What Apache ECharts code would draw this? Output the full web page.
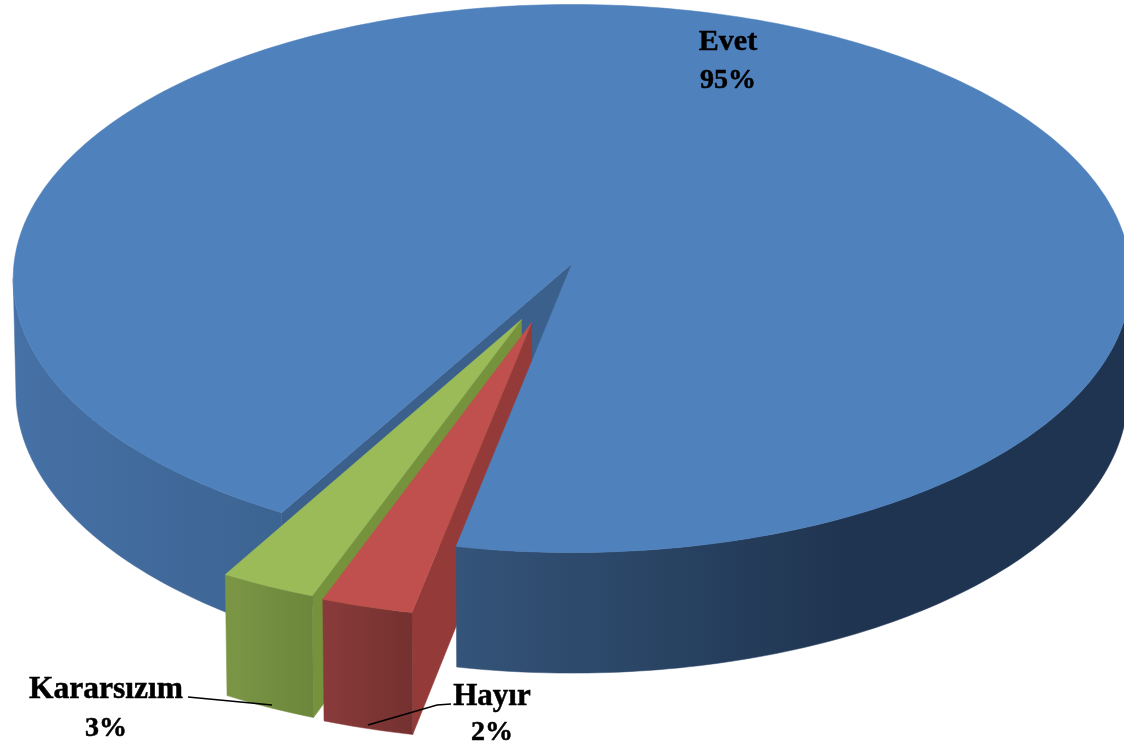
<!DOCTYPE html>
<html>
<head>
<meta charset="utf-8">
<style>html,body{margin:0;padding:0;background:#fff;overflow:hidden}#c{width:1124px;height:748px}</style>
<script src="https://cdn.jsdelivr.net/npm/echarts@6/dist/echarts.min.js"></script>
</head>
<body>
<div id="c"></div>
<script>
// Data
const categories = ['Evet', 'Hayır', 'Kararsızım'];
const values = [94.9, 2.49, 2.61];

// Pie view settings
const firstSliceAngle = 209.7;
const view = { cx: 572, cy: 263.5, rx: 558, ry: 273.2, persp: 0.0547, depth: 114, shrink: 0.995 };
const explode = [[0, 0], [-0.0715, 0.2136], [-0.0895, 0.203]];
const labelFont = '"Liberation Serif", serif';

const total = values.reduce((a, b) => a + b, 0);
const spans = [];
values.reduce((start, val) => {
  const end = start + val / total * 360;
  spans.push([start, end]);
  return end;
}, firstSliceAngle);

function project(u, v, lower) {
  const s = 1 / (1 - view.persp * v);
  const k = lower ? view.shrink : 1;
  return [view.cx + view.rx * u * s * k, view.cy + view.ry * v * s + (lower ? view.depth * s : 0)];
}
function rimPoint(i, deg, lower) {
  const a = deg * Math.PI / 180;
  return project(explode[i][0] + Math.sin(a), explode[i][1] - Math.cos(a), lower);
}
function hubPoint(i, lower) { return project(explode[i][0], explode[i][1], lower); }
function arc(i, a0, a1, lower) {
  const n = Math.max(2, Math.ceil(Math.abs(a1 - a0)));
  const pts = [];
  for (let j = 0; j <= n; j++) pts.push(rimPoint(i, a0 + (a1 - a0) * j / n, lower));
  return pts;
}
function hGrad(x0, x1, c0, c1) {
  return new echarts.graphic.LinearGradient(x0, 0, x1, 0, [{ offset: 0, color: c0 }, { offset: 1, color: c1 }], true);
}
const tops = ['#4f81bd', '#c0504d', '#9bbb59'];
const sides = ['#3c608c', '#943b39', '#76923c'];

// Painter's order of the pie's faces: [category index, face]
const faces = [
  [0, 'side'], [0, 'rimBack'],
  [2, 'side'], [2, 'rim'], [2, 'top'],
  [1, 'side'], [1, 'rim'], [1, 'top'],
  [0, 'rimFront'], [0, 'top']
];
function facePoints(i, face) {
  const [a0, a1] = spans[i];
  if (face === 'top') return [hubPoint(i, false)].concat(arc(i, a0, a1, false));
  if (face === 'side') return [hubPoint(i, false), hubPoint(i, true), rimPoint(i, a0, true), rimPoint(i, a0, false)];
  let from = a0, to = a1;
  if (face === 'rimBack') to = 266.9;
  if (face === 'rimFront') from = 453.1;
  return arc(i, from, to, false).concat(arc(i, from, to, true).reverse());
}
function faceFill(i, face) {
  if (face === 'top') return tops[i];
  if (face === 'side') return sides[i];
  if (face === 'rimBack') return hGrad(15, 285, '#4671a6', '#3c6492');
  if (face === 'rimFront') return new echarts.graphic.LinearGradient(456, 0, 850, 0,
    [{ offset: 0, color: '#345479' }, { offset: 1, color: '#1f3450' }], true);
  if (i === 2) return hGrad(228, 313, '#7a9645', '#6c863b');
  return hGrad(322, 414, '#893b3a', '#74312f');
}

// Labels, each with its line and the leader that ties it to its slice
const labelSpots = [
  { name: [728, 42], pct: [728, 81], size: 30 },
  { name: [492, 697], pct: [492, 733], size: 31 },
  { name: [106, 690], pct: [106, 729], size: 31.5 }
];
const leaders = [null, [[451, 704], [437, 705], [368, 725]], [[188, 697], [272, 705]]];

const chart = echarts.init(document.getElementById('c'), null, { renderer: 'canvas' });
chart.setOption({
  animation: false,
  backgroundColor: '#ffffff',
  series: [
    {
      type: 'custom',
      coordinateSystem: 'none',
      silent: true,
      clip: false,
      data: faces.map((f, idx) => [f[0], idx]),
      renderItem(params, api) {
        const i = api.value(0);
        const face = faces[api.value(1)][1];
        const fill = faceFill(i, face);
        return { type: 'polygon', shape: { points: facePoints(i, face) }, style: { fill: fill, stroke: fill, lineWidth: 0.5 } };
      }
    },
    {
      type: 'custom',
      coordinateSystem: 'none',
      silent: true,
      clip: false,
      data: categories.map((c, i) => [i, values[i]]),
      renderItem(params, api) {
        const i = api.value(0);
        const spot = labelSpots[i];
        const children = [
          { type: 'text', x: spot.name[0], y: spot.name[1], style: { text: categories[i], fill: '#000', stroke: '#000', lineWidth: 0.5, font: 'bold ' + spot.size + 'px ' + labelFont, align: 'center', verticalAlign: 'middle' } },
          { type: 'text', x: spot.pct[0], y: spot.pct[1], style: { text: Math.round(api.value(1)) + '%', fill: '#000', stroke: '#000', lineWidth: 0.5, font: 'bold 28px ' + labelFont, align: 'center', verticalAlign: 'middle' } }
        ];
        if (leaders[i]) children.push({ type: 'polyline', shape: { points: leaders[i] }, style: { stroke: '#000', lineWidth: 1.6, fill: null } });
        return { type: 'group', children: children };
      }
    }
  ]
});
</script>
</body>
</html>
